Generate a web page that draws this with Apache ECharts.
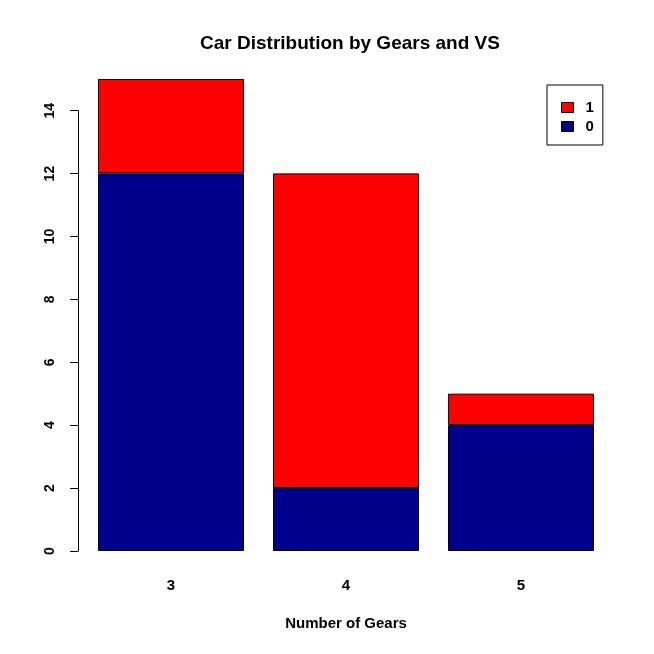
<!DOCTYPE html>
<html>
<head>
<meta charset="utf-8">
<script src="https://cdn.jsdelivr.net/npm/echarts@6/dist/echarts.min.js"></script>
<style>html,body{margin:0;padding:0;background:#fff}#c{width:654px;height:654px}</style>
</head>
<body>
<div id="c"></div>
<script>
const categories = ['3', '4', '5'];
const vs0 = [12, 2, 4];
const vs1 = [3, 10, 1];
const yTicks = [0, 2, 4, 6, 8, 10, 12, 14];

const FONT = 'Liberation Sans, Arial, sans-serif';
const chart = echarts.init(document.getElementById('c'), null, {renderer: 'canvas'});
chart.setOption({
  animation: false,
  backgroundColor: '#fff',
  title: {
    text: 'Car Distribution by Gears and VS',
    left: 345, top: 29, textAlign: 'center',
    textStyle: {fontFamily: FONT, fontWeight: 'bold', fontSize: 19, color: '#000'}
  },
  legend: {
    data: ['1', '0'],
    orient: 'vertical',
    left: 547, top: 85,
    padding: [15, 9, 11, 14],
    itemGap: 4,
    itemWidth: 12, itemHeight: 10,
    icon: 'rect',
    borderColor: '#000', borderWidth: 1, borderRadius: 0,
    textStyle: {fontFamily: FONT, fontWeight: 'bold', fontSize: 15, color: '#000', padding: [0, 0, 0, 7]},
    itemStyle: {borderColor: '#000', borderWidth: 1}
  },
  grid: [
    {left: 83.5, right: 45.5, top: 79, bottom: 103},
    {left: 78, width: 10, top: 110.7, bottom: 103}
  ],
  xAxis: [
    {
      type: 'category', gridIndex: 0, data: categories,
      axisLine: {show: false}, axisTick: {show: false},
      axisLabel: {margin: 27, fontFamily: FONT, fontWeight: 'bold', fontSize: 15, color: '#000'},
      name: 'Number of Gears', nameLocation: 'middle', nameGap: 65,
      nameTextStyle: {fontFamily: FONT, fontWeight: 'bold', fontSize: 15, color: '#000'}
    },
    {type: 'value', gridIndex: 1, show: false}
  ],
  yAxis: [
    {type: 'value', gridIndex: 0, min: 0, max: 15, show: false},
    {
      type: 'value', gridIndex: 1, min: yTicks[0], max: yTicks[yTicks.length - 1], interval: 2,
      splitLine: {show: false},
      axisLine: {show: true, lineStyle: {color: '#000', width: 1}},
      axisTick: {show: true, length: 8, lineStyle: {color: '#000', width: 1}},
      axisLabel: {rotate: 90, margin: 21, fontFamily: FONT, fontWeight: 'bold', fontSize: 14, color: '#000'}
    }
  ],
  series: [
    {
      name: '0', type: 'bar', stack: 'vs', data: vs0, barWidth: '83.4%',
      xAxisIndex: 0, yAxisIndex: 0,
      itemStyle: {color: '#00008B', borderColor: '#000', borderWidth: 1}
    },
    {
      name: '1', type: 'bar', stack: 'vs', data: vs1, barWidth: '83.4%',
      xAxisIndex: 0, yAxisIndex: 0,
      itemStyle: {color: '#FF0000', borderColor: '#000', borderWidth: 1}
    }
  ]
});
</script>
</body>
</html>
